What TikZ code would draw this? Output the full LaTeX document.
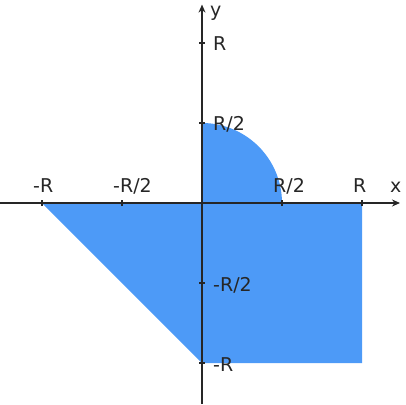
\documentclass[tikz,border=0pt]{standalone}
\usepackage{fontspec}
\setmainfont{DejaVu Sans}
\usetikzlibrary{arrows.meta}
\definecolor{fillblue}{RGB}{77,154,247}

\begin{document}
\begin{tikzpicture}[>={Stealth[length=8pt,width=7pt]}, x=160pt, y=160pt,
  axis/.style={line width=1.3pt, black!85},
  lbl/.style={font=\fontsize{19}{19}\selectfont, inner sep=0, black!85}]
  \useasboundingbox (-1.2625,-1.25625) rectangle (1.275,1.26875);
  % region
  \fill[fillblue] (-1,0) -- (0,-1) -- (1,-1) -- (1,0) -- (0.5,0)
    arc[start angle=0, end angle=90, radius=0.5] -- (0,0) -- cycle;
  % axes
  \coordinate (xs) at (-1.2625,0);
  \coordinate (xe) at (1.2375,0);
  \coordinate (ys) at (0,-1.25625);
  \coordinate (ye) at (0,1.24);
  \draw[axis,->] (xs) -- (xe);
  \draw[axis,->] (ys) -- (ye);
  \node[lbl, anchor=base west] (xlab) at ([xshift=-10pt,yshift=10pt]xe) {x};
  \node[lbl, anchor=base west] (ylab) at ([xshift=8pt,yshift=-12pt]ye) {y};
  % ticks and labels
  \foreach \v/\t [count=\i] in {-1/{-R},-0.5/{-R/2},0.5/{R/2},1/{R}}{
    \coordinate (tx\i) at (\v,0);
    \coordinate (ty\i) at (0,\v);
    \draw[axis] ([yshift=-3pt]tx\i) -- ([yshift=3pt]tx\i);
    \draw[axis] ([xshift=-3pt]ty\i) -- ([xshift=3pt]ty\i);
    \node[lbl, anchor=base west] (lx\i) at ([xshift=-9pt,yshift=10pt]tx\i) {\t};
    \node[lbl, anchor=base west] (ly\i) at ([xshift=11pt,yshift=-8pt]ty\i) {\t};
  }
\end{tikzpicture}
\end{document}
